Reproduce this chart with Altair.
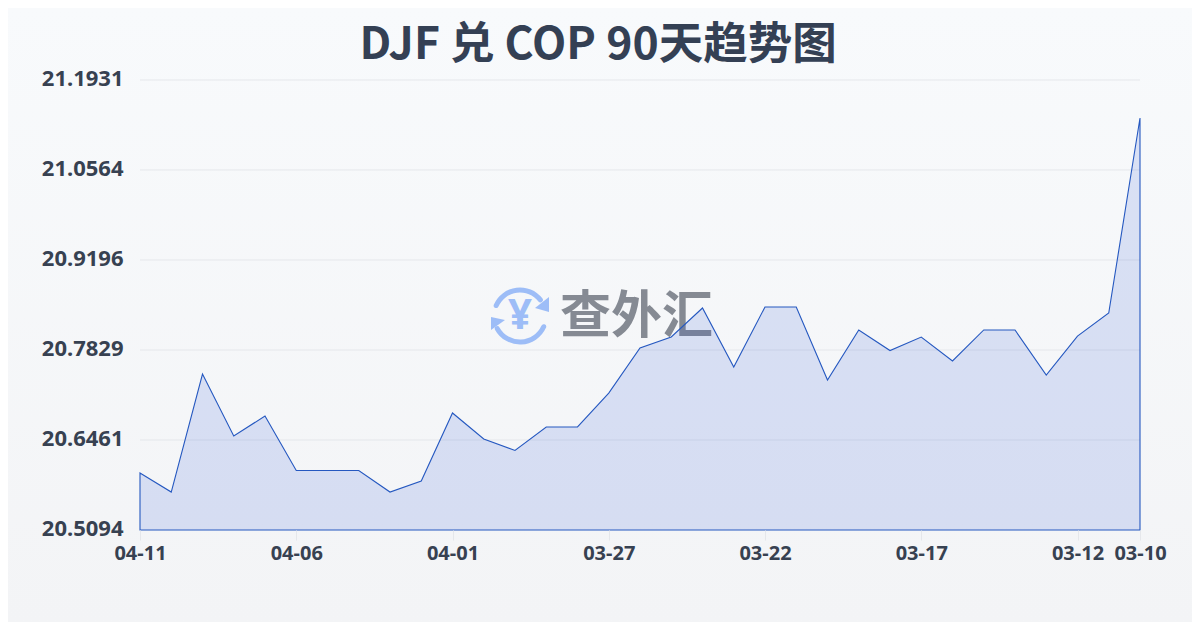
import altair as alt
import pandas as pd

dates = ["04-11","04-10","04-09","04-08","04-07","04-06","04-05","04-04","04-03","04-02","04-01",
         "03-31","03-30","03-29","03-28","03-27","03-26","03-25","03-24","03-23","03-22","03-21",
         "03-20","03-19","03-18","03-17","03-16","03-15","03-14","03-13","03-12","03-11","03-10"]
rates = [20.5960,20.5671,20.7464,20.6522,20.6826,20.5998,20.5998,20.5998,20.5671,20.5838,20.6872,
         20.6477,20.6302,20.6659,20.6659,20.7175,20.7859,20.8026,20.8467,20.7570,20.8482,20.8482,
         20.7373,20.8133,20.7821,20.8026,20.7662,20.8133,20.8133,20.7449,20.8041,20.8391,21.1354]
y_ticks = [20.5094,20.6461,20.7829,20.9196,21.0564,21.1931]
x_ticks = ["04-11","04-06","04-01","03-27","03-22","03-17","03-12","03-10"]
title_text = "DJF 兑 COP 90天趋势图"
brand = "查外汇"

FONT = "Noto Sans, Noto Sans CJK SC"
TITLE_FONT = "Noto Sans CJK SC"
TEXT = "#374151"
W, H = 1000, 450
L, T, R, B = 132, 72, 52, 92

df = pd.DataFrame({"date": dates, "rate": rates})
blank = alt.Data(values=[{"k": 0}])

x_scale = alt.Scale(type="point", domain=dates, padding=0)
y_scale = alt.Scale(domain=[y_ticks[0], y_ticks[-1]], nice=False, zero=False)
y_axis = alt.Axis(values=y_ticks, format=".4f", labelFont=FONT, labelFontWeight="bold",
                  labelFontSize=22, labelColor=TEXT, ticks=False, domain=False, grid=False,
                  labelPadding=17, labelOverlap=False, labelBaseline="middle", labelOffset=-1.5, zindex=1)

bg = alt.Chart(blank).mark_rect(
    color=alt.Gradient(gradient="linear", x1=0, y1=0, x2=0, y2=1,
                       stops=[alt.GradientStop(offset=0, color="#f8fafc"),
                              alt.GradientStop(offset=1, color="#f3f4f6")])
).encode(x=alt.value(-L), x2=alt.value(W + R), y=alt.value(-T), y2=alt.value(H + B))

grid = alt.Chart(pd.DataFrame({"v": y_ticks[1:]})).mark_rule(color="#e5e7eb", strokeWidth=1).encode(
    y=alt.Y("v:Q", scale=y_scale, axis=y_axis, title=None), x=alt.value(0), x2=alt.value(W))

title_mark = alt.Chart(blank).mark_text(text=title_text, font=TITLE_FONT, fontWeight="bold", fontSize=44.5,
                                        color="#344054", align="center", baseline="middle").encode(
    x=alt.value(598 - 140), y=alt.value(46 - 80))

# watermark
def arc(t0, t1):
    return alt.Chart(blank).mark_arc(color="#9dbdf7", innerRadius=23.5, outerRadius=28.5,
                                     theta=t0, theta2=t1, cornerRadius=2.5).encode(
        x=alt.value(520 - 140), y=alt.value(316 - 80))

arc_top = arc(5.03, 7.28)
arc_bot = arc(1.9, 4.3)
head_r = alt.Chart(blank).mark_point(filled=True, opacity=1, color="#9dbdf7", size=400,
                                     shape="M0.47,-0.87L0.47,0.63L-0.93,0.23Z").encode(
    x=alt.value(544.3 - 140), y=alt.value(305.7 - 80))
head_l = alt.Chart(blank).mark_point(filled=True, opacity=1, color="#9dbdf7", size=400,
                                     shape="M-0.47,-0.53L-0.47,0.77L0.93,-0.23Z").encode(
    x=alt.value(495.7 - 140), y=alt.value(322.3 - 80))
yen = alt.Chart(blank).mark_text(text="¥", font=FONT, fontWeight="bold", fontSize=42, color="#9dbdf7",
                                 align="center", baseline="middle").encode(
    x=alt.value(520 - 140), y=alt.value(316 - 80))
brand_text = alt.Chart(blank).mark_text(text=brand, font="Noto Sans CJK SC", fontWeight="bold", fontSize=51,
                                        color="#858a93", align="left", baseline="middle").encode(
    x=alt.value(560 - 140), y=alt.value(318 - 80))

area = alt.Chart(df).mark_area(color="#2050d8", fillOpacity=0.14, stroke="#2558c0", strokeWidth=1.1,
                               interpolate="linear").encode(
    x=alt.X("date:N", scale=x_scale, sort=None, title=None,
            axis=alt.Axis(values=x_ticks, labelFont=FONT, labelFontWeight="bold", labelFontSize=20,
                          labelColor=TEXT, labelAngle=0, labelPadding=3, tickColor="#e5e7eb",
                          tickSize=10, domain=False, grid=False, labelOverlap=False, labelBound=False,
                          zindex=1)),
    y=alt.Y("rate:Q", scale=y_scale, title=None, axis=y_axis),
    y2=alt.Y2(datum=y_ticks[0]),
)

chart = alt.layer(bg, grid, title_mark, arc_top, arc_bot, head_r, head_l, yen, brand_text, area).properties(
    width=W, height=H,
    autosize=alt.AutoSizeParams(type="none"),
    padding={"left": L, "top": T, "right": R, "bottom": B},
    background="#f5f7fa",
).configure_view(stroke=None)

chart.save("out.html", embed_options={"renderer": "svg", "actions": False})
